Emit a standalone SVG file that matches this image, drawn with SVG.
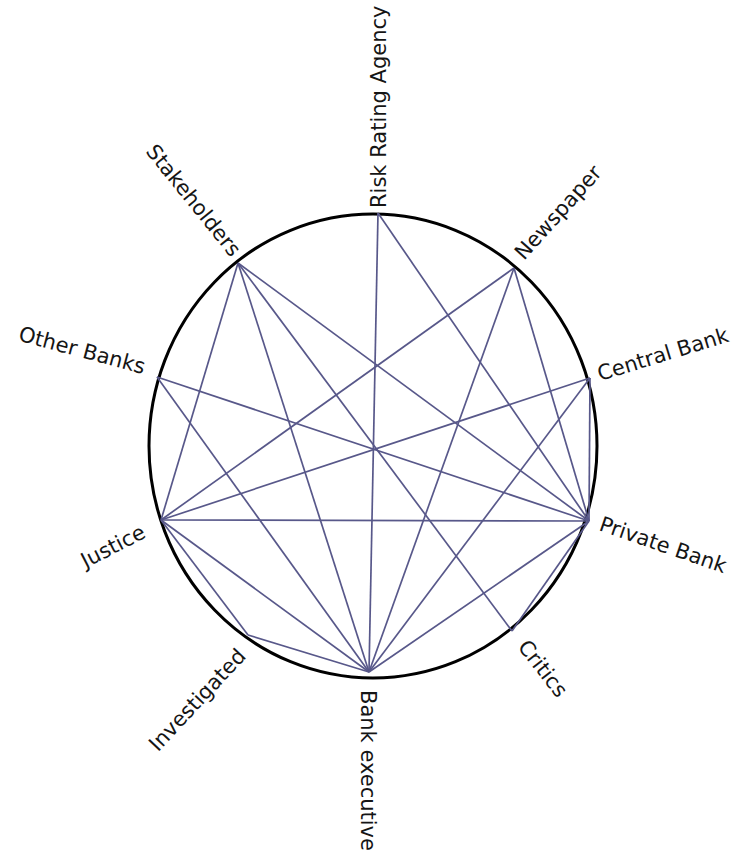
<svg xmlns="http://www.w3.org/2000/svg" width="737" height="852" viewBox="0 0 737 852">
<style>
.lbl{font-family:"DejaVu Sans","Verdana",sans-serif;font-size:21px;fill:#151515}
.e{stroke:#58588a;stroke-width:1.7;fill:none}
.ring{stroke:#000;stroke-width:3;fill:none}
</style>
<rect width="737" height="852" fill="#fff"/>
<ellipse class="ring" cx="373" cy="446" rx="224" ry="232"/>
<g id="connectors">
<line class="e" x1="378" y1="213" x2="369" y2="672"/>
<line class="e" x1="378" y1="213" x2="589" y2="521"/>
<line class="e" x1="238" y1="263" x2="161" y2="520"/>
<line class="e" x1="238" y1="263" x2="369" y2="672"/>
<line class="e" x1="238" y1="263" x2="512" y2="631"/>
<line class="e" x1="238" y1="263" x2="589" y2="521"/>
<line class="e" x1="157" y1="377" x2="589" y2="521"/>
<line class="e" x1="157" y1="377" x2="369" y2="672"/>
<line class="e" x1="161" y1="520" x2="514" y2="268"/>
<line class="e" x1="161" y1="520" x2="590" y2="378"/>
<line class="e" x1="161" y1="520" x2="589" y2="521"/>
<line class="e" x1="161" y1="520" x2="369" y2="672"/>
<line class="e" x1="161" y1="520" x2="248" y2="635"/>
<line class="e" x1="248" y1="635" x2="369" y2="672"/>
<line class="e" x1="514" y1="268" x2="369" y2="672"/>
<line class="e" x1="514" y1="268" x2="589" y2="521"/>
<line class="e" x1="590" y1="378" x2="589" y2="521"/>
<line class="e" x1="590" y1="378" x2="369" y2="672"/>
<line class="e" x1="589" y1="521" x2="369" y2="672"/>
<line class="e" x1="589" y1="521" x2="512" y2="631"/>
</g>
<g id="risk-rating-agency"><text class="lbl" transform="translate(386,208) rotate(-90)">Risk Rating Agency</text></g>
<g id="newspaper"><text class="lbl" transform="translate(524,261) rotate(-48)">Newspaper</text></g>
<g id="central-bank"><text class="lbl" transform="translate(600,381) rotate(-17)">Central Bank</text></g>
<g id="private-bank"><text class="lbl" transform="translate(598,530) rotate(19)">Private Bank</text></g>
<g id="critics"><text class="lbl" transform="translate(517,647) rotate(52)">Critics</text></g>
<g id="bank-executive"><text class="lbl" transform="translate(361,690) rotate(90)">Bank executive</text></g>
<g id="investigated"><text class="lbl" text-anchor="end" transform="translate(247,657) rotate(-47)">Investigated</text></g>
<g id="justice"><text class="lbl" text-anchor="end" transform="translate(147,537) rotate(-27)">Justice</text></g>
<g id="other-banks"><text class="lbl" text-anchor="end" transform="translate(143,374) rotate(15)">Other Banks</text></g>
<g id="stakeholders"><text class="lbl" text-anchor="end" transform="translate(231,258) rotate(51)">Stakeholders</text></g>
</svg>
